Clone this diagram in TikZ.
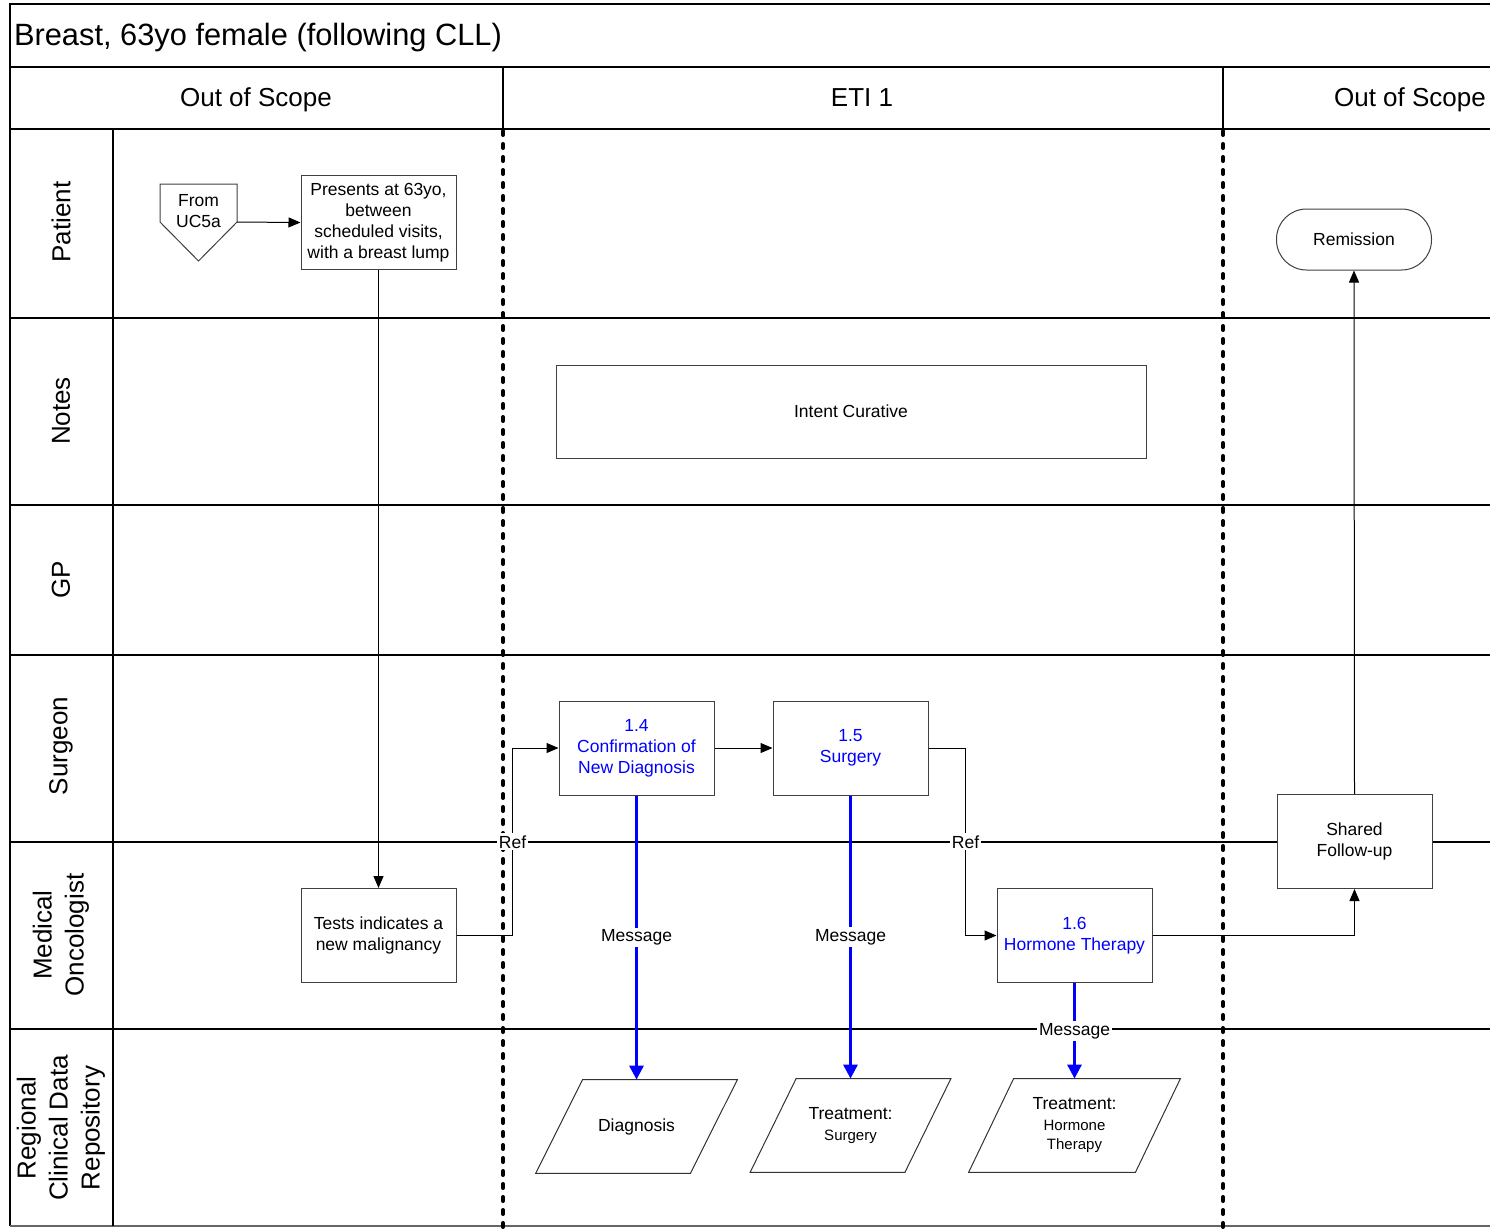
\documentclass[tikz,border=0pt]{standalone}
\usepackage{fontspec}
\setmainfont{Liberation Sans}
\usetikzlibrary{arrows.meta, calc}

\newcommand{\boxfont}{\fontsize{8.75pt}{10.5pt}\selectfont}
\newcommand{\smallfont}{\fontsize{7.5pt}{9.5pt}\selectfont}
\newcommand{\lanefont}{\fontsize{13pt}{16pt}\selectfont}

\begin{document}
\begin{tikzpicture}[x=0.5pt, y=-0.5pt,
  grid/.style={line width=0.6pt},
  scopeline/.style={line width=2pt, line cap=round, dash pattern=on 2pt off 4.5pt},
  task/.style={draw=black!75, line width=0.5pt, fill=white, align=center, font=\boxfont,
    minimum width=77.5pt, minimum height=47pt, inner sep=0pt},
  eti/.style={task, text=blue},
  store/.style={align=center, font=\boxfont, minimum width=77pt, minimum height=46.5pt, inner sep=0pt},
  storeline/.style={draw=black!80, line width=0.5pt},
  lanelbl/.style={rotate=90, align=center, font=\lanefont},
  arr/.style={-{Triangle[length=6pt, width=5pt]}, line width=0.5pt},
  msg/.style={-{Triangle[length=7pt, width=7pt]}, draw=blue, line width=1.5pt},
  lbl/.style={fill=white, inner sep=1pt, font=\boxfont, text=black}
]
\useasboundingbox (0,0) rectangle (1490,1228);

% frame and lanes
\draw[grid] (1490,4) -- (10,4) -- (10,1226);
\draw[grid] (10,67) -- (1490,67);
\draw[grid] (10,129) -- (1490,129);
\foreach \y in {318,505,655,842,1029} {
  \draw[grid] (10,\y) -- (1490,\y);
}
\draw[grid, black!60] (10,1226) -- (1490,1226);
\draw[grid] (113,129) -- (113,1226);
\draw[grid] (503,67) -- (503,129);
\draw[grid] (1223,67) -- (1223,129);

% scope borders
\draw[scopeline] (503,131) -- (503,1228);
\draw[scopeline] (1223,131) -- (1223,1228);

% titles
\node[anchor=west, font=\fontsize{15.4pt}{18pt}\selectfont] (title) at (7,38) {Breast, 63yo female (following CLL)};
\node[font=\lanefont] (hdout1) at (256,100) {Out of Scope};
\node[font=\lanefont] (hdeti) at (862,98) {ETI 1};
\node[font=\lanefont] (hdout2) at (1410,100) {Out of Scope};

% lane labels
\node[lanelbl] (lpat) at (61,222) {Patient};
\node[lanelbl] (lnot) at (61,411) {Notes};
\node[lanelbl] (lgp) at (61,580) {GP};
\node[lanelbl] (lsur) at (61,746) {Surgeon};
\node[lanelbl] (lonc) at (61,935) {Medical\\Oncologist};
\node[lanelbl] (lrep) at (61,1128) {Regional\\Clinical Data\\Repository};

% off-page reference
\draw[draw=black!75, line width=0.5pt, fill=white] (160,184) -- (237,184) -- (237,222) coordinate (fromtip)
  -- (198.5,261) -- (160,222) -- cycle;
\node[align=center, font=\boxfont] (from) at (198.5,211) {From\\UC5a};

% boxes
\node[task] (pres) at (378.5,222.5) {Presents at 63yo,\\between\\scheduled visits,\\with a breast lump};
\node[task, rounded corners=15pt, minimum height=30.5pt] (remis) at (1354,239.5) {Remission};
\node[task, minimum width=295pt, minimum height=46.5pt] (intent) at (851,411.5) {Intent Curative};
\node[eti] (c14) at (636.5,748) {1.4\\Confirmation of\\New Diagnosis};
\node[eti] (c15) at (850.5,748) {1.5\\Surgery};
\node[task] (shared) at (1354.5,841.5) {Shared\\Follow-up};
\node[task] (tests) at (378.5,935.5) {Tests indicates a\\new malignancy};
\node[eti] (c16) at (1074.5,935.5) {1.6\\Hormone Therapy};

% repository entries
\node[store] (dx) at (636.5,1126.5) {Diagnosis};
\draw[storeline] ($(dx.north west)+(23.5,0)$) -- ($(dx.north east)+(23.5,0)$)
  -- ($(dx.south east)+(-23.5,0)$) -- ($(dx.south west)+(-23.5,0)$) -- cycle;
\node[store] (txsur) at (850.5,1125.5) {Treatment:\\{\smallfont Surgery}};
\draw[storeline] ($(txsur.north west)+(23,0)$) -- ($(txsur.north east)+(23,0)$)
  -- ($(txsur.south east)+(-23,0)$) -- ($(txsur.south west)+(-23,0)$) -- cycle;
\node[store, minimum width=83pt] (txhor) at (1074.5,1125.5) {Treatment:\\{\smallfont Hormone}\\[-1pt]{\smallfont Therapy}};
\draw[storeline] ($(txhor.north west)+(22.5,0)$) -- ($(txhor.north east)+(22.5,0)$)
  -- ($(txhor.south east)+(-22.5,0)$) -- ($(txhor.south west)+(-22.5,0)$) -- cycle;

% flow
\draw[arr] (fromtip) -- (pres.west);
\draw[arr] (pres.south) -- (tests.north);
\draw[arr] (tests.east) -- ++(56,0) |- node[lbl, pos=.25] {Ref} (c14.west);
\draw[arr] (c14.east) -- (c15.west);
\draw[arr] (c15.east) -- ++(37,0) |- node[lbl, pos=.25] {Ref} (c16.west);
\draw[arr] (c16.east) -| (shared.south);
\draw[arr] (shared.north) -- (remis.south);

% messages
\draw[msg] (c14.south) -- node[lbl] {Message} (dx.north);
\draw[msg] (c15.south) -- node[lbl] {Message} (txsur.north);
\draw[msg] (c16.south) -- node[lbl] {Message} (txhor.north);
\end{tikzpicture}
\end{document}
